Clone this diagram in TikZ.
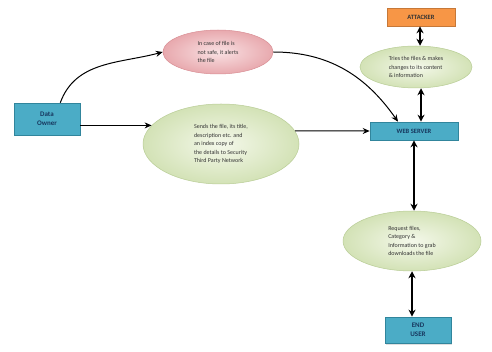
\documentclass[tikz,border=0pt]{standalone}
\usepackage{fontspec}
\setmainfont{Carlito}
\usetikzlibrary{shapes.geometric,arrows.meta,shadows}
\definecolor{boxfill}{HTML}{4BACC6}
\definecolor{boxdraw}{HTML}{31859C}
\definecolor{boxtext}{HTML}{17375E}
\definecolor{greenA}{HTML}{F4F8EA}
\definecolor{greenB}{HTML}{D3E2B6}
\definecolor{greenD}{HTML}{B9CD96}
\definecolor{pinkA}{HTML}{F9E1E3}
\definecolor{pinkB}{HTML}{E8A9AE}
\definecolor{pinkD}{HTML}{D98F95}
\definecolor{orangeF}{HTML}{F79646}
\begin{document}
\begin{tikzpicture}[x=1pt,y=-1pt,
  bluebox/.style={rectangle,fill=boxfill,draw=boxdraw,line width=0.6pt,text=boxtext,
    font=\fontsize{7}{9}\selectfont\bfseries,align=center,inner sep=1pt,
    drop shadow={shadow xshift=1pt,shadow yshift=-1.5pt,opacity=0.25}},
  greenell/.style={ellipse,inner sep=0pt,draw=greenD,line width=0.5pt,
    inner color=greenA,outer color=greenB,
    font=\fontsize{6}{8.5}\selectfont,align=left,text=black!80},
  pinkell/.style={ellipse,inner sep=0pt,draw=pinkD,line width=0.5pt,
    inner color=pinkA,outer color=pinkB,
    font=\fontsize{6}{8.5}\selectfont,align=left,text=black!80},
  arr/.style={-{Stealth[length=7pt,width=6pt]},line width=1pt,black},
  darr/.style={{Stealth[length=7pt,width=7pt]}-{Stealth[length=7pt,width=7pt]},line width=1.6pt,black}]
\useasboundingbox (0,0) rectangle (492,352);
\fill[white] (0,0) rectangle (492,352);

\node[bluebox,minimum width=66pt,minimum height=32pt] (owner) at (47,119) {Data\\Owner};
\node[pinkell,minimum width=110pt,minimum height=44pt] (pink) at (218,52)
  {In case of file is\\not safe, it alerts\\the file};
\node[greenell,minimum width=156pt,minimum height=80pt] (send) at (221,144)
  {Sends the file, its title,\\description etc. and\\an index copy of\\the details to Security\\Third Party Network};
\node[bluebox,fill=orangeF,draw=orangeF!80!black,text=black!80,minimum width=68pt,minimum height=18pt,font=\fontsize{6.5}{8}\selectfont\bfseries] (att) at (421,17) {ATTACKER};
\node[greenell,minimum width=112pt,minimum height=42pt] (hack) at (416,67)
  {Tries the files \& makes\\changes to its content\\\& information};
\node[bluebox,minimum width=88pt,minimum height=18pt,font=\fontsize{6.5}{8}\selectfont\bfseries] (web) at (414,131) {WEB SERVER};
\node[greenell,minimum width=138pt,minimum height=60pt] (req) at (412,241)
  {Request files,\\Category \&\\Information to grab\\downloads the file};
\node[bluebox,minimum width=66pt,minimum height=26pt] (user) at (418,330) {END\\USER};

\coordinate (o1) at ([xshift=-20pt]owner.north east);
\coordinate (s1) at (send.165);
\coordinate (s2) at (send.10);
\draw[arr] (o1) to[out=70,in=195] (pink.west);
\draw[arr] (pink.east) to[out=0,in=125] ([xshift=-16pt]web.north);
\draw[arr] (owner.east |- s1) -- (s1);
\draw[arr] (s2) -- (web.west);
\draw[darr] ([xshift=-1pt]att.south) -- ([xshift=-1pt]att.south |- hack.north);
\draw[darr] ([xshift=7pt]web.north |- hack.south) -- ([xshift=7pt]web.north);
\draw[darr] (web.south) -- (web.south |- req.north);
\draw[darr] (req.south) -- (req.south |- user.north);
\end{tikzpicture}
\end{document}
